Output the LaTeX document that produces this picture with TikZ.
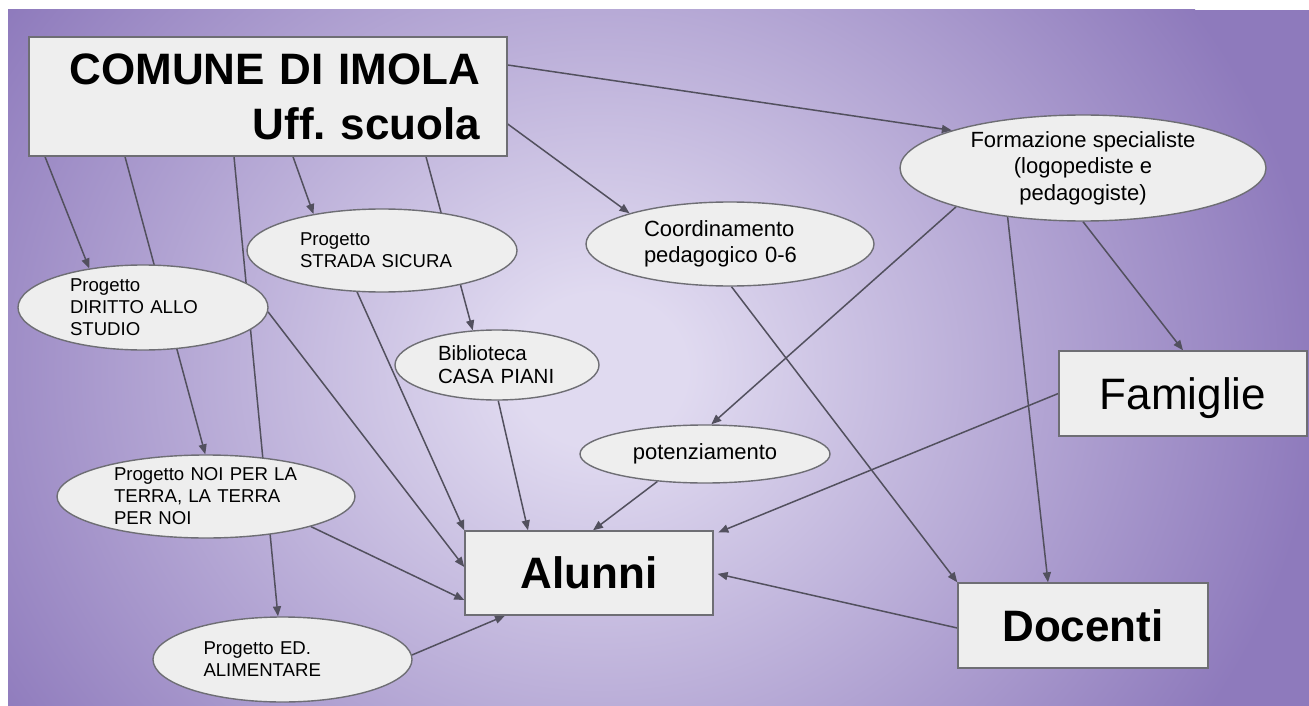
\documentclass[tikz,border=0pt]{standalone}
\usepackage{fontspec}
\setmainfont{Liberation Sans}
\usepackage{xcolor}
\usepackage{tikz}
\usetikzlibrary{shapes, arrows, arrows.meta, positioning}

\definecolor{bglight}{RGB}{224,218,240}
\definecolor{bgdark}{RGB}{142,122,188}
\definecolor{boxfill}{RGB}{238,238,238}
\definecolor{boxline}{RGB}{110,110,116}
\definecolor{linkgray}{RGB}{82,80,94}

\pgfdeclarelayer{bg}
\pgfdeclarelayer{links}
\pgfsetlayers{bg,links,main}

\pgfdeclareradialshading{slideglow}{\pgfpoint{0bp}{0bp}}{color(0bp)=(bglight); color(3bp)=(bglight); color(25bp)=(bgdark); color(50bp)=(bgdark)}

\begin{document}
\begin{tikzpicture}[x=1pt, y=-1pt,
        ovalbox/.style={ellipse, draw=boxline, line width=1.4pt, fill=boxfill, inner sep=0pt, text=black},
        rectbox/.style={rectangle, draw=boxline, line width=1.4pt, fill=boxfill, inner sep=0pt, text=black},
        link/.style={draw=linkgray, line width=1.5pt, -{Triangle[length=10pt,width=8pt]}},
        bigtext/.style={font=\fontsize{44}{55}\selectfont},
        midtext/.style={font=\fontsize{22}{26.5}\selectfont},
        smalltext/.style={font=\fontsize{18.6}{22}\selectfont}]
        \useasboundingbox (0,0) rectangle (1309,706);

        \node[rectbox, minimum width=478pt, minimum height=119pt, text width=424pt, inner xsep=27pt, align=right, font=\fontsize{44}{55}\selectfont\bfseries] (comune) at (268,96.5) {COMUNE DI IMOLA\\Uff.\ scuola};

        \node[ovalbox, midtext, minimum width=366pt, minimum height=106pt, align=center] (formazione) at (1083,168) {Formazione specialiste\\(logopediste e\\pedagogiste)};
        \node[ovalbox, midtext, minimum width=288pt, minimum height=84pt, text width=172pt, align=left] (coord) at (730,244) {Coordinamento\\pedagogico 0-6};
        \node[ovalbox, midtext, minimum width=250pt, minimum height=58pt] (poten) at (705,454) {potenziamento};

        \node[ovalbox, smalltext, minimum width=270pt, minimum height=83pt, text width=164pt, align=left] (strada) at (382,250.5) {Progetto\\STRADA SICURA};
        \node[ovalbox, smalltext, minimum width=250pt, minimum height=85pt, text width=146pt, align=left] (diritto) at (143,307.5) {Progetto\\DIRITTO ALLO\\STUDIO};
        \node[ovalbox, font=\fontsize{20.5}{23}\selectfont, minimum width=204pt, minimum height=70pt, text width=118pt, align=left] (biblio) at (497,365) {Biblioteca\\CASA PIANI};
        \node[ovalbox, smalltext, minimum width=298pt, minimum height=83pt, text width=184pt, align=left] (noi) at (206,496.5) {Progetto NOI PER LA\\TERRA, LA TERRA\\PER NOI};
        \node[ovalbox, smalltext, minimum width=259pt, minimum height=85pt, text width=158pt, align=left] (ed) at (282.5,659.5) {Progetto ED.\\ALIMENTARE};

        \node[rectbox, bigtext, minimum width=248pt, minimum height=85pt, text depth=0pt] (famiglie) at (1183,393.5) {Famiglie};
        \node[rectbox, font=\fontsize{44}{55}\selectfont\bfseries, minimum width=248pt, minimum height=84pt] (alunni) at (589,573) {Alunni};
        \node[rectbox, font=\fontsize{44}{55}\selectfont\bfseries, minimum width=250pt, minimum height=85pt] (docenti) at (1083,625.5) {Docenti};

        \begin{pgfonlayer}{links}
            \draw[link] ([yshift=31.5pt]comune.east) -- (formazione.164);
            \draw[link] ([yshift=-27.5pt]comune.east) -- (coord.163);
            \draw[link] ([xshift=25pt]comune.south) -- (strada.152);
            \draw[link] ([xshift=158pt]comune.south) -- (biblio.125);
            \draw[link] ([xshift=-223pt]comune.south) -- (diritto.144);
            \draw[link] ([xshift=-143pt]comune.south) -- (noi.91);
            \draw[link] ([xshift=-34pt]comune.south) -- (ed.96);

            \draw[link] (diritto.-2) -- ([yshift=6pt]alunni.west);
            \draw[link] (strada.-121) -- (alunni.north west);
            \draw[link] (biblio.-88) -- ([xshift=-61pt]alunni.north);
            \draw[link] (noi.-16) -- ([yshift=-27pt]alunni.west);
            \draw[link] (ed.2) -- ([xshift=-84pt]alunni.south);
            \draw[link] (poten.-150) -- ([xshift=4pt]alunni.north);
            \draw[link, shorten >=5pt] (famiglie.west) -- ([yshift=-4pt]alunni.north east);
            \draw[link, shorten >=4pt] ([yshift=-2.5pt]docenti.west) -- (alunni.east);

            \draw[link] (coord.-88) -- (docenti.north west);
            \draw[link] (formazione.-163) -- (poten.78);
            \draw[link] (formazione.-147) -- ([xshift=-35pt]docenti.north);
            \draw[link] (formazione.-90) -- (famiglie.north);
        \end{pgfonlayer}

        \begin{pgfonlayer}{bg}
            \fill[bgdark] (8,10) rectangle (1309,706);
            \begin{scope}
                \clip (8,10) rectangle (1309,706);
                \shade[shading=slideglow] (600,370) ellipse [x radius=720, y radius=640];
            \end{scope}
        \end{pgfonlayer}
    \end{tikzpicture}
\end{document}
